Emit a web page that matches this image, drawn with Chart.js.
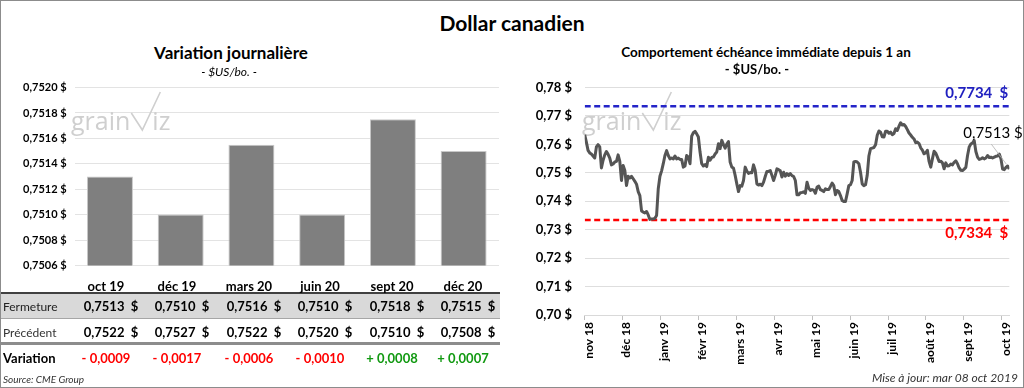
<!DOCTYPE html>
<html><head><meta charset="utf-8">
<script src="https://cdn.jsdelivr.net/npm/chart.js@4.4.1/dist/chart.umd.min.js"></script>
<style>
html,body{margin:0;padding:0;background:#fff;}
body{width:1024px;height:388px;position:relative;overflow:hidden;font-family:Lato,"Open Sans",sans-serif;color:#000;}
#frame{position:absolute;left:0;top:0;width:1022px;height:386px;border:1px solid #8c8c8c;pointer-events:none;}
.t{position:absolute;white-space:nowrap;line-height:1;}
.c{transform:translate(-50%,-50%);}
.l{transform:translate(0,-50%);}
.r{transform:translate(-100%,-50%);}
.bg{position:absolute;}
canvas{position:absolute;display:block;}
#barChart{left:0;top:73px;width:505px;height:207px;}
#lineChart{left:512px;top:67px;width:512px;height:303px;}
</style></head>
<body>
<canvas id="barChart" width="505" height="207"></canvas>
<canvas id="lineChart" width="512" height="303"></canvas>
<div id="txt"></div>
<div id="frame"></div>
<script>
// ---------- DATA ----------
const contracts = ['oct 19','déc 19','mars 20','juin 20','sept 20','déc 20'];
const fermeture = [0.7513, 0.7510, 0.75155, 0.7510, 0.75175, 0.7515];
const precedent = [0.7522, 0.7527, 0.7522, 0.7520, 0.7510, 0.7508];
const variation = [-0.0009, -0.0017, -0.0006, -0.0010, 0.0008, 0.0007];
const barTicks = [0.7506, 0.7508, 0.7510, 0.7512, 0.7514, 0.7516, 0.7518, 0.7520];

const monthLabels = ['nov 18','déc 18','janv 19','févr 19','mars 19','avr 19','mai 19','juin 19','juil 19','août 19','sept 19','oct 19'];
const lineTicks = [0.70, 0.71, 0.72, 0.73, 0.74, 0.75, 0.76, 0.77, 0.78];
const yearHigh = 0.7734;
const yearLow = 0.7334;
const lastClose = 0.7513;
const pointsPerMonth = 22.68;
const dailyClose = [
0.7634,0.7608,0.7579,0.7570,0.7566,0.7559,0.7552,0.7591,0.7599,0.7591,
0.7517,0.7544,0.7563,0.7575,0.7565,0.7552,0.7528,0.7531,0.7538,0.7540,
0.7563,0.7540,0.7473,0.7526,0.7508,0.7455,0.7488,0.7482,0.7488,0.7479,
0.7470,0.7460,0.7434,0.7420,0.7366,0.7362,0.7359,0.7364,0.7352,0.7336,
0.7338,0.7338,0.7340,0.7350,0.7444,0.7488,0.7507,0.7532,0.7561,0.7578,
0.7561,0.7549,0.7552,0.7549,0.7559,0.7549,0.7552,0.7547,0.7547,0.7520,
0.7524,0.7561,0.7555,0.7532,0.7629,0.7641,0.7646,0.7637,0.7626,0.7573,
0.7532,0.7524,0.7529,0.7522,0.7555,0.7544,0.7554,0.7556,0.7566,0.7573,
0.7602,0.7585,0.7614,0.7599,0.7587,0.7601,0.7610,0.7538,0.7520,0.7517,
0.7491,0.7461,0.7434,0.7455,0.7453,0.7473,0.7520,0.7506,0.7498,0.7501,
0.7500,0.7528,0.7508,0.7461,0.7457,0.7460,0.7455,0.7467,0.7487,0.7505,
0.7505,0.7508,0.7491,0.7473,0.7491,0.7514,0.7511,0.7507,0.7485,0.7502,
0.7488,0.7497,0.7491,0.7497,0.7490,0.7487,0.7473,0.7423,0.7423,0.7430,
0.7431,0.7433,0.7428,0.7467,0.7446,0.7438,0.7441,0.7439,0.7428,0.7450,
0.7453,0.7441,0.7438,0.7434,0.7444,0.7441,0.7441,0.7452,0.7464,0.7455,
0.7423,0.7438,0.7434,0.7420,0.7403,0.7399,0.7399,0.7426,0.7455,0.7458,
0.7473,0.7538,0.7540,0.7538,0.7532,0.7502,0.7461,0.7455,0.7458,0.7491,
0.7559,0.7585,0.7587,0.7589,0.7599,0.7632,0.7647,0.7643,0.7627,0.7626,
0.7646,0.7646,0.7639,0.7643,0.7634,0.7638,0.7655,0.7649,0.7664,0.7676,
0.7668,0.7670,0.7663,0.7652,0.7640,0.7633,0.7625,0.7619,0.7606,0.7608,
0.7603,0.7588,0.7580,0.7567,0.7570,0.7579,0.7540,0.7520,0.7549,0.7576,
0.7569,0.7555,0.7540,0.7541,0.7535,0.7514,0.7535,0.7524,0.7525,0.7531,
0.7528,0.7537,0.7542,0.7532,0.7517,0.7509,0.7508,0.7513,0.7519,0.7560,
0.7591,0.7601,0.7605,0.7614,0.7575,0.7555,0.7547,0.7549,0.7553,0.7549,
0.7552,0.7561,0.7554,0.7555,0.7552,0.7555,0.7558,0.7559,0.7566,0.7549,
0.7513,0.7511,0.7519,0.7524,0.7513
];

// ---------- HELPERS ----------
const FONT = 'Lato, "Open Sans", sans-serif';
Chart.defaults.font.family = FONT;
Chart.defaults.color = '#000';
function fmt(v, d){ const p = Math.pow(10,d); return (Math.round(v*p + 1e-6)/p).toFixed(d).replace('.', ','); }
const txt = document.getElementById('txt');
function addText(s, x, y, cls, style){
  const d = document.createElement('div');
  d.className = 't ' + cls; d.textContent = s;
  d.style.left = x + 'px'; d.style.top = y + 'px';
  Object.assign(d.style, style || {});
  txt.appendChild(d); return d;
}
function addRect(x, y, w, h, color){
  const d = document.createElement('div');
  d.className = 'bg';
  Object.assign(d.style, {left:x+'px', top:y+'px', width:w+'px', height:h+'px', background:color});
  txt.appendChild(d);
}
function drawWatermark(ctx, x, y){
  ctx.save();
  ctx.fillStyle = '#cfcfcf'; ctx.strokeStyle = '#cfcfcf';
  ctx.font = '400 25px "Open Sans", sans-serif';
  ctx.textBaseline = 'alphabetic'; ctx.textAlign = 'left';
  ctx.fillText('grain', x, y);
  const w = ctx.measureText('grain').width;
  ctx.lineWidth = 1.6;
  ctx.beginPath();
  ctx.moveTo(x + w + 1, y - 17);
  ctx.lineTo(x + w + 12, y);
  ctx.lineTo(x + w + 30, y - 38);
  ctx.stroke();
  ctx.fillText('iz', x + w + 22, y);
  ctx.restore();
}

// ---------- TITLES ----------
addText('Dollar canadien', 512, 22, 'c', {font:'bold 21px '+FONT});
addText('Variation journalière', 231, 52, 'c', {font:'bold 17px '+FONT});
addText('- $US/bo. -', 229, 71, 'c', {font:'italic 12px '+FONT});
addText('Comportement échéance immédiate depuis 1 an', 766, 52, 'c', {font:'bold 13.5px '+FONT});
addText('- $US/bo. -', 757, 69, 'c', {font:'bold 13px '+FONT});

// ---------- TABLE ----------
const colX = [106, 177, 249, 320, 392, 463];
addRect(0, 294, 500, 25, '#d9d9d9');
addRect(0, 292, 500, 2, '#404040');
addRect(0, 318, 500, 1, '#a6a6a6');
addRect(0, 342, 500, 3, '#8c8c8c');
contracts.forEach((c, i) => {
  addText(c, colX[i], 286, 'c', {font:'bold 13px '+FONT});
  addText(fmt(fermeture[i],4) + '\u00a0\u00a0$', colX[i] + 5, 306, 'c', {font:'bold 13px '+FONT});
  addText(fmt(precedent[i],4) + '\u00a0\u00a0$', colX[i] + 5, 332, 'c', {font:'bold 13px '+FONT});
  const v = variation[i];
  addText((v < 0 ? '- ' : '+ ') + fmt(Math.abs(v),4), colX[i], 358, 'c', {font:'bold 13px '+FONT, color: v < 0 ? '#ff0000' : '#119911'});
});
addText('Fermeture', 3, 306, 'l', {font:'12px '+FONT, color:'#222'});
addText('Précédent', 3, 332, 'l', {font:'12px '+FONT, color:'#333'});
addText('Variation', 3, 358, 'l', {font:'bold 13px '+FONT});
addText('Source: CME Group', 3, 379, 'l', {font:'italic 10px '+FONT, color:'#333'});
addText('Mise à jour: mar 08 oct 2019', 1018, 377, 'r', {font:'italic 12px '+FONT, color:'#333'});

// ---------- BAR CHART ----------
new Chart(document.getElementById('barChart'), {
  type: 'bar',
  data: { labels: contracts, datasets: [{ data: fermeture, backgroundColor:'#7f7f7f', borderColor:'#c8c8c8', borderWidth:1, barPercentage:0.65, categoryPercentage:1 }] },
  options: {
    responsive:false, animation:false, devicePixelRatio:1,
    layout:{ padding:{left:0, right:6, top:0, bottom:0} },
    plugins:{ legend:{display:false}, tooltip:{enabled:false} },
    scales:{
      x:{ display:false },
      y:{ min:barTicks[0], max:barTicks[barTicks.length-1],
          afterBuildTicks: s => { s.ticks = barTicks.map(v => ({value:v})); },
          afterFit: s => { s.width = 74.6; },
          ticks:{ font:{size:11, weight:'bold'}, color:'#000', padding:8, callback: v => fmt(v,4) + ' $' },
          grid:{ color:'#e3e3e3', drawTicks:false, lineWidth:1 },
          border:{ display:false } }
    }
  },
  plugins:[{ id:'wm1', beforeDatasetsDraw(chart){ drawWatermark(chart.ctx, 71, 57); } }]
});

// ---------- LINE CHART ----------
const lastIdx = dailyClose.length - 1;
new Chart(document.getElementById('lineChart'), {
  type: 'line',
  data: { datasets: [
    { data: dailyClose.map((v,i) => ({x:i, y:v})), borderColor:'#555555', borderWidth:3, pointRadius:0, tension:0, fill:false, borderJoinStyle:'round' },
    { data: [{x:0, y:yearHigh}, {x:lastIdx, y:yearHigh}], borderColor:'#2424c8', borderWidth:2.5, borderDash:[6,3.5], pointRadius:0 },
    { data: [{x:0, y:yearLow}, {x:lastIdx, y:yearLow}], borderColor:'#ff0000', borderWidth:2.5, borderDash:[6,3.5], pointRadius:0 }
  ]},
  options: {
    responsive:false, animation:false, devicePixelRatio:1,
    layout:{ padding:{left:0, right:14.7, top:0, bottom:0} },
    plugins:{ legend:{display:false}, tooltip:{enabled:false} },
    scales:{
      x:{ type:'linear', min:0, max:lastIdx,
          afterBuildTicks: s => { s.ticks = monthLabels.map((l,k) => ({value:k*pointsPerMonth})); },
          afterFit: s => { s.height = 55; },
          ticks:{ autoSkip:false, maxRotation:90, minRotation:90, font:{size:12, weight:'bold'}, color:'#000', padding:2, labelOffset:4,
                  callback: (v, i) => monthLabels[i] },
          grid:{ drawOnChartArea:false, drawTicks:true, tickLength:5, color:'#bfbfbf', tickColor:'#bfbfbf' },
          border:{ display:true, color:'#d9d9d9' } },
      y:{ min:lineTicks[0], max:lineTicks[lineTicks.length-1],
          afterBuildTicks: s => { s.ticks = lineTicks.map(v => ({value:v})); },
          afterFit: s => { s.width = 72.7; },
          ticks:{ font:{size:13, weight:'bold'}, color:'#000', padding:12.7, callback: v => fmt(v,2) + ' $' },
          grid:{ color:'#dedede', drawTicks:false },
          border:{ display:false } }
    }
  },
  plugins:[{
    id:'wm2',
    beforeDatasetsDraw(chart){ drawWatermark(chart.ctx, 70, 63); },
    afterDatasetsDraw(chart){
      const ctx = chart.ctx, xs = chart.scales.x, ys = chart.scales.y, a = chart.chartArea;
      ctx.save();
      ctx.textAlign = 'right'; ctx.textBaseline = 'middle';
      ctx.font = 'bold 15px ' + FONT;
      ctx.fillStyle = '#2020c0';
      ctx.fillText(fmt(yearHigh,4) + '\u00a0\u00a0$', a.right - 1, ys.getPixelForValue(yearHigh) - 13);
      ctx.fillStyle = '#ff0000';
      ctx.fillText(fmt(yearLow,4) + '\u00a0\u00a0$', a.right - 1, ys.getPixelForValue(yearLow) + 13);
      const px = xs.getPixelForValue(lastIdx), py = ys.getPixelForValue(dailyClose[lastIdx]);
      ctx.strokeStyle = '#b0b0b0'; ctx.lineWidth = 0.8;
      ctx.beginPath(); ctx.moveTo(px - 18, py - 25); ctx.lineTo(px - 3, py - 5); ctx.stroke();
      ctx.fillStyle = '#000'; ctx.textAlign = 'left';
      ctx.font = '15px ' + FONT;
      ctx.fillText(fmt(lastClose,4) + ' $', px - 46, py - 36);
      ctx.restore();
    }
  }]
});
</script>
</body></html>
